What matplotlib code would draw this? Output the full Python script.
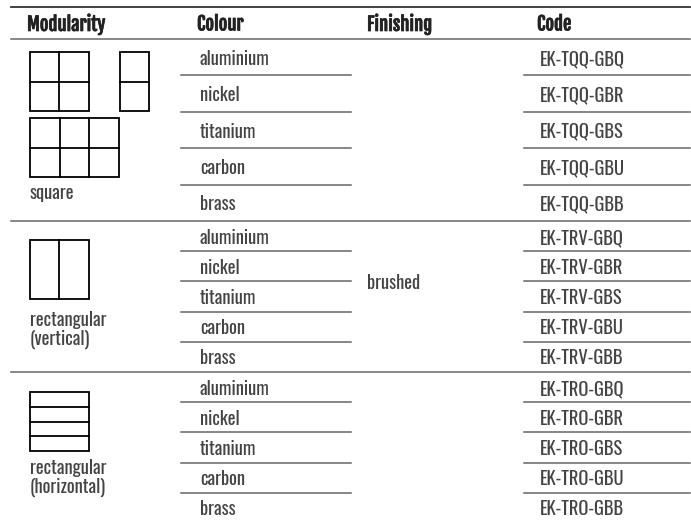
import matplotlib
matplotlib.use("Agg")
import matplotlib.pyplot as plt
import matplotlib.patheffects as pe
from matplotlib.patches import Rectangle

# table content
headers = ["Modularity", "Colour", "Finishing", "Code"]
modularity = ["square", "rectangular\n(vertical)", "rectangular\n(horizontal)"]
colours = ["aluminium", "nickel", "titanium", "carbon", "brass"]
finishing = "brushed"
code_prefix = ["EK-TQQ", "EK-TRV", "EK-TRO"]
code_suffix = ["GBQ", "GBR", "GBS", "GBU", "GBB"]

body_font = ["Oswald", "DejaVu Sans"]
head_font = ["Fjalla One", "Oswald", "DejaVu Sans"]

W, H = 691, 520
fig = plt.figure(figsize=(W / 100, H / 100), dpi=100)
ax = fig.add_axes([0, 0, 1, 1])
ax.set_xlim(0, W)
ax.set_ylim(H, 0)
ax.axis("off")

txt = "#444444"
line = "#666666"
col_x = [27, 197, 367, 537]
left, right = 11, 690
fs = 13.3

def body(x, y, s, **kw):
    ax.text(x, y, s, fontsize=fs, color=txt, va="center", family=body_font, **kw)

# header
ax.plot([left, right], [7, 7], color="#333333", lw=1.3)
for x, h in zip(col_x, headers):
    ax.text(x, 24, h, fontsize=13.4, color="#222222", va="center", family=head_font,
            path_effects=[pe.withStroke(linewidth=0.5, foreground="#222222")])
ax.plot([left, right], [39, 39], color=line, lw=1.1)

# section rows: top, bottom
sections = [(39, 221), (221, 372), (372, 523)]
for s, (top, bot) in enumerate(sections):
    rh = (bot - top) / len(colours)
    for i, c in enumerate(colours):
        yc = top + rh * (i + 0.5) + 1.5
        body(col_x[1] + 3, yc, c)
        body(col_x[3] + 3, yc, code_prefix[s] + "-" + code_suffix[i])
        if i > 0:
            y = top + rh * i
            ax.plot([181, 351], [y, y], color=line, lw=1.1)
            ax.plot([524, right], [y, y], color=line, lw=1.1)
    if s > 0:
        ax.plot([left, right], [top, top], color=line, lw=1.1)

body(col_x[2], 283, finishing)

# modularity icons
def grid(x, y, w, h, nx, ny):
    ax.add_patch(Rectangle((x, y), w, h, fill=False, ec="black", lw=1.3))
    for i in range(1, nx):
        ax.plot([x + w * i / nx] * 2, [y, y + h], color="black", lw=1.3)
    for j in range(1, ny):
        ax.plot([x, x + w], [y + h * j / ny] * 2, color="black", lw=1.3)

grid(30, 52, 59, 59, 2, 2)
grid(120, 52, 29, 59, 1, 2)
grid(30, 118, 89, 59, 3, 2)
grid(30, 240, 59, 59, 2, 1)
grid(30, 392, 59, 59, 1, 4)

body(30, 193, modularity[0])
body(30, 330, modularity[1], linespacing=1.0)
body(30, 478, modularity[2], linespacing=1.0)

fig.savefig("out.png", dpi=100)
